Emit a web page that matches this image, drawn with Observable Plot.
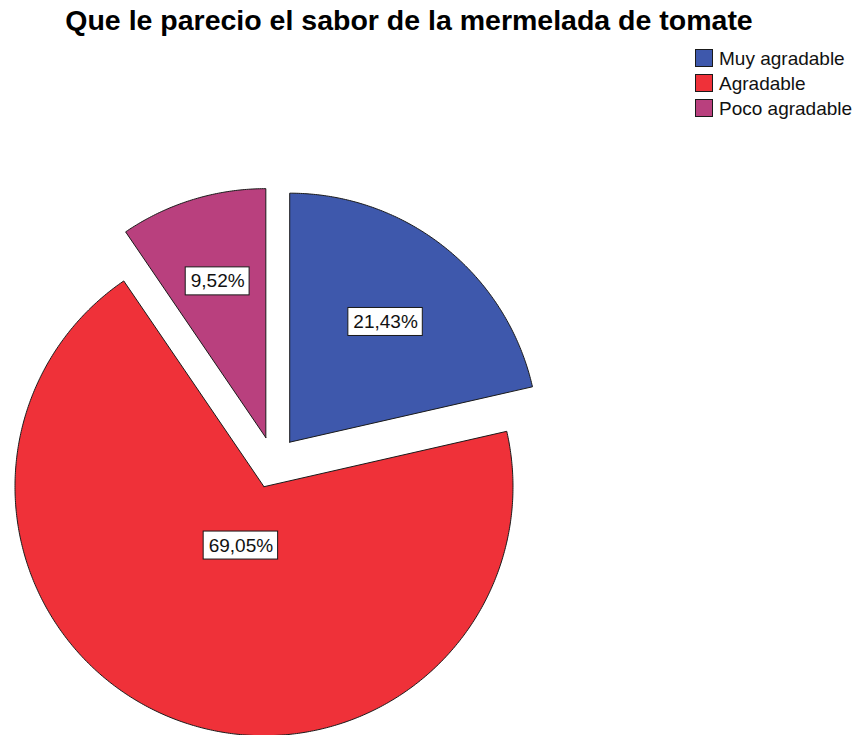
<!DOCTYPE html>
<html><head><meta charset="utf-8">
<script src="https://cdn.jsdelivr.net/npm/d3@7"></script>
<script src="https://cdn.jsdelivr.net/npm/@observablehq/plot@0.6"></script>
<style>
body{margin:0;background:#fff;font-family:"Liberation Sans",Arial,sans-serif;}
#wrap{position:relative;width:858px;height:735px;overflow:hidden;background:#fff;}
#chart{position:absolute;left:0;top:0;}
#title{position:absolute;left:0;top:4px;width:818px;text-align:center;font-weight:bold;font-size:28.5px;line-height:32px;color:#000;white-space:nowrap;}
#legend{position:absolute;left:695px;top:49px;}
.row{display:flex;align-items:flex-start;height:25px;}
.sw{width:18px;height:18px;box-sizing:border-box;border:1px solid #1a1a1a;margin-right:6px;}
.lt{font-size:19px;line-height:18px;color:#111;white-space:nowrap;padding-top:1px;}
</style>
</head><body>
<div id="wrap">
  <div id="chart"></div>
  <div id="title">Que le parecio el sabor de la mermelada de tomate</div>
  <div id="legend"></div>
</div>
<script>
const categories = ["Muy agradable", "Agradable", "Poco agradable"];
const percents = [21.43, 69.05, 9.52];
const labels = ["21,43%", "69,05%", "9,52%"];
const colors = ["#3e58ac", "#ef3139", "#b9407e"];

const W = 858, H = 735;
const R = 249, CX = 273, CY = 462;
const explode = 26 / R;

const ctx = document.createElement("canvas").getContext("2d");
ctx.font = "19px 'Liberation Sans', Arial, sans-serif";

const arcs = d3.pie().sort(null).value(d => d)(percents);
const poly = [];
const labelRows = [];
arcs.forEach((a, i) => {
  const cat = categories[i];
  const mid = (a.startAngle + a.endAngle) / 2;
  const ox = explode * Math.sin(mid), oy = explode * Math.cos(mid);
  poly.push({cat, x: ox, y: oy});
  const n = Math.max(2, Math.ceil((a.endAngle - a.startAngle) / (Math.PI / 360)));
  for (let k = 0; k <= n; k++) {
    const t = a.startAngle + (a.endAngle - a.startAngle) * k / n;
    poly.push({cat, x: ox + Math.sin(t), y: oy + Math.cos(t)});
  }
  poly.push({cat, x: ox, y: oy});
  const half = (a.endAngle - a.startAngle) / 2;
  const dist = 2 * Math.sin(half) / (3 * half);
  const lx = ox + dist * Math.sin(mid), ly = oy + dist * Math.cos(mid);
  const tw = ctx.measureText(labels[i]).width;
  const hw = (tw / 2 + 5) / R, hh = 14 / R;
  labelRows.push({label: labels[i], x: lx, y: ly, x1: lx - hw, x2: lx + hw, y1: ly - hh, y2: ly + hh});
});

const plot = Plot.plot({
  width: W, height: H, margin: 0,
  x: {domain: [-CX / R, (W - CX) / R], axis: null},
  y: {domain: [-(H - CY) / R, CY / R], axis: null},
  color: {domain: categories, range: colors},
  style: {background: "transparent", fontFamily: "'Liberation Sans', Arial, sans-serif"},
  marks: [
    Plot.line(poly, {x: "x", y: "y", z: "cat", fill: "cat", stroke: "#1a1a1a", strokeWidth: 1, curve: "linear", strokeLinejoin: "miter"}),
    Plot.rect(labelRows, {x1: "x1", x2: "x2", y1: "y1", y2: "y2", fill: "white", stroke: "#1a1a1a", strokeWidth: 1}),
    Plot.text(labelRows, {x: "x", y: "y", text: "label", fontSize: 19, fill: "#111"})
  ]
});
document.getElementById("chart").appendChild(plot);

const leg = document.getElementById("legend");
categories.forEach((c, i) => {
  const row = document.createElement("div");
  row.className = "row";
  const sw = document.createElement("div");
  sw.className = "sw";
  sw.style.background = colors[i];
  const t = document.createElement("div");
  t.className = "lt";
  t.textContent = c;
  row.appendChild(sw); row.appendChild(t);
  leg.appendChild(row);
});
</script>
</body></html>
